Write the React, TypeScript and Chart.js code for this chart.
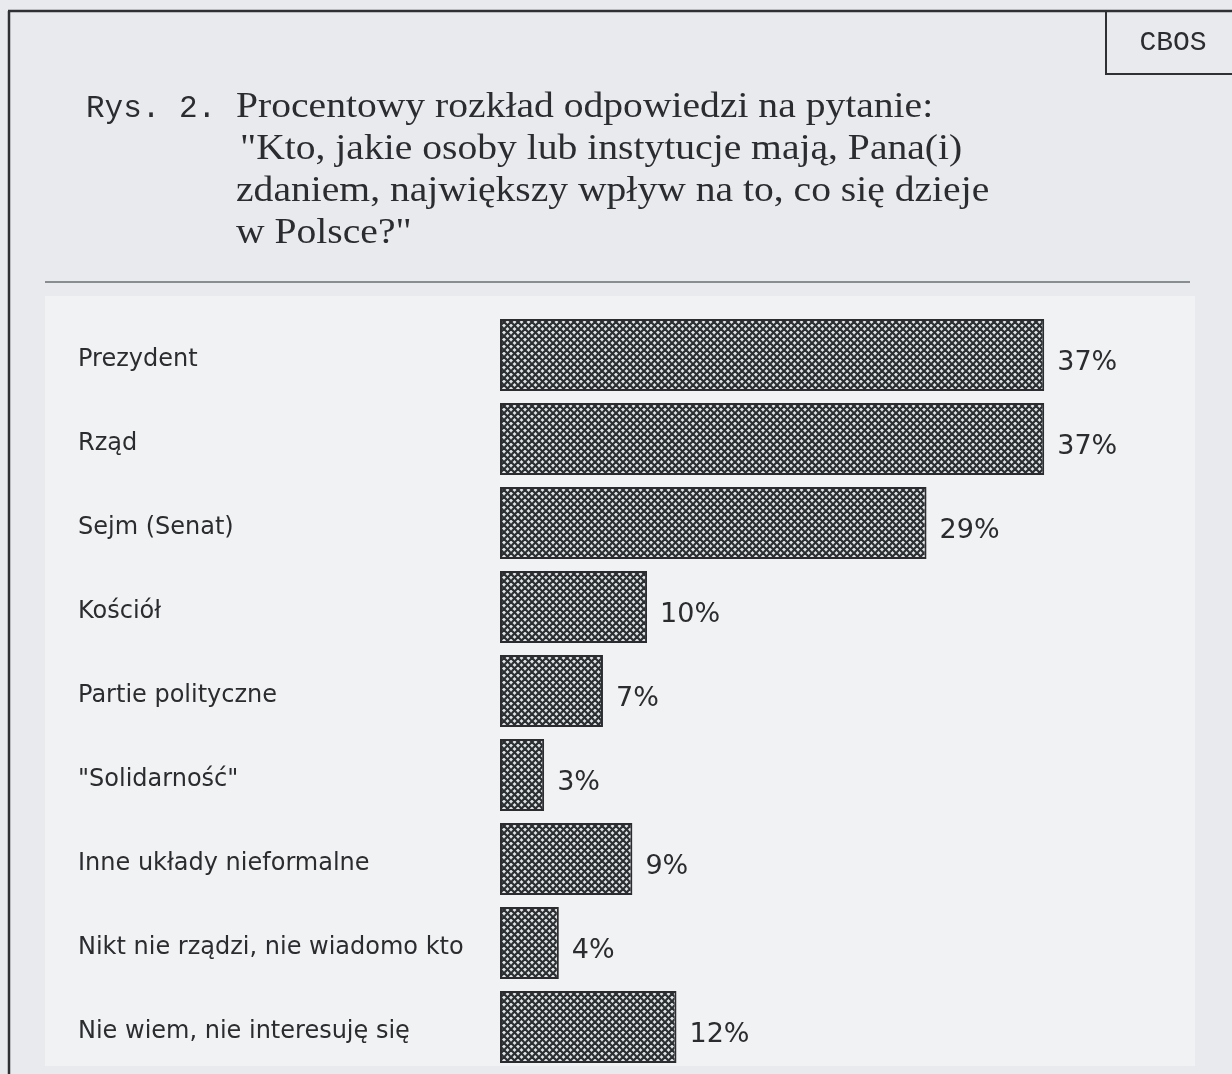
import React, { useEffect, useRef } from "react";
import { Chart, registerables } from "chart.js";

Chart.register(...registerables);

const categories = [
  "Prezydent",
  "Rząd",
  "Sejm (Senat)",
  "Kościół",
  "Partie polityczne",
  "\"Solidarność\"",
  "Inne układy nieformalne",
  "Nikt nie rządzi, nie wiadomo kto",
  "Nie wiem, nie interesuję się",
];
const values = [37, 37, 29, 10, 7, 3, 9, 4, 12];
const valueLabels = ["37%", "37%", "29%", "10%", "7%", "3%", "9%", "4%", "12%"];
const titlePrefix = "Rys. 2.";
const titleLines = [
  "Procentowy rozkład odpowiedzi na pytanie:",
  "\"Kto, jakie osoby lub instytucje mają, Pana(i)",
  "zdaniem, największy wpływ na to, co się dzieje",
  "w Polsce?\"",
];
const sourceLabel = "CBOS";

function makePattern(): CanvasPattern | string {
  const c = document.createElement("canvas");
  const s = 7;
  c.width = s;
  c.height = s;
  const g = c.getContext("2d");
  if (!g) return "#888";
  g.fillStyle = "#e2e4e6";
  g.fillRect(0, 0, s, s);
  g.strokeStyle = "#2c2f32";
  g.lineWidth = 2.2;
  for (const off of [-s, 0, s]) {
    g.beginPath();
    g.moveTo(off, 0);
    g.lineTo(off + s, s);
    g.stroke();
    g.beginPath();
    g.moveTo(off + s, 0);
    g.lineTo(off, s);
    g.stroke();
  }
  const p = g.createPattern(c, "repeat");
  return p || "#888";
}

function drawScaled(ctx: CanvasRenderingContext2D, text: string, x: number, y: number, sx: number) {
  ctx.save();
  ctx.translate(x, y);
  ctx.scale(sx, 1);
  ctx.fillText(text, 0, 0);
  ctx.restore();
}

const pagePlugin = {
  id: "pagePlugin",
  beforeDraw(chart: any) {
    const ctx = chart.ctx as CanvasRenderingContext2D;
    const W = chart.width;
    const H = chart.height;
    ctx.save();
    ctx.fillStyle = "#e8eaed";
    ctx.fillRect(0, 0, W, H);
    // lighter chart panel
    ctx.fillStyle = "#f0f2f3";
    ctx.fillRect(45, 296, 1150, 770);
    // frame
    ctx.strokeStyle = "#2e3033";
    ctx.lineWidth = 2.5;
    ctx.beginPath();
    ctx.moveTo(8, 11);
    ctx.lineTo(W, 11);
    ctx.moveTo(9, 11);
    ctx.lineTo(9, H);
    ctx.stroke();
    // CBOS box
    ctx.lineWidth = 2;
    ctx.beginPath();
    ctx.moveTo(1106, 11);
    ctx.lineTo(1106, 74);
    ctx.lineTo(W, 74);
    ctx.stroke();
    ctx.fillStyle = "#2a2c2f";
    ctx.font = "28px 'Liberation Mono', 'DejaVu Sans Mono', monospace";
    ctx.textAlign = "center";
    ctx.textBaseline = "middle";
    ctx.fillText(sourceLabel, 1173, 43);
    // title
    ctx.textAlign = "left";
    ctx.textBaseline = "alphabetic";
    ctx.font = "31px 'Liberation Mono', 'DejaVu Sans Mono', monospace";
    ctx.fillText(titlePrefix, 86, 117);
    ctx.font = "36px 'Liberation Serif', 'DejaVu Serif', serif";
    titleLines.forEach((t, i) => {
      drawScaled(ctx, t, i === 1 ? 240 : 236, 117 + i * 42, 1.1);
    });
    // separator
    ctx.strokeStyle = "#8a8d90";
    ctx.lineWidth = 2;
    ctx.beginPath();
    ctx.moveTo(45, 282);
    ctx.lineTo(1190, 282);
    ctx.stroke();
    ctx.restore();
  },
  afterDatasetsDraw(chart: any) {
    const ctx = chart.ctx as CanvasRenderingContext2D;
    const meta = chart.getDatasetMeta(0);
    ctx.save();
    ctx.fillStyle = "#2a2c2f";
    ctx.font = "27px 'DejaVu Sans', Verdana, sans-serif";
    ctx.textAlign = "left";
    ctx.textBaseline = "middle";
    meta.data.forEach((bar: any, i: number) => {
      ctx.fillText(valueLabels[i], bar.x + 13, bar.y + 8);
    });
    ctx.restore();
  },
};

export default function App() {
  const ref = useRef<HTMLCanvasElement | null>(null);
  useEffect(() => {
    if (!ref.current) return;
    const pattern = makePattern();
    const chart = new Chart(ref.current, {
      type: "bar",
      data: {
        labels: categories.map((c) => ["", c]),
        datasets: [
          {
            data: values,
            backgroundColor: pattern as any,
            borderColor: "#2a2c2f",
            borderWidth: 2,
            borderSkipped: false,
            categoryPercentage: 1,
            barPercentage: 0.86,
          },
        ],
      },
      options: {
        indexAxis: "y",
        animation: false,
        responsive: false,
        devicePixelRatio: 1,
        layout: { padding: { left: 78, top: 313, right: 26, bottom: 5 } },
        plugins: {
          legend: { display: false },
          tooltip: { enabled: false },
          title: { display: false },
        },
        scales: {
          x: { display: false, min: 0, max: 48 },
          y: {
            grid: { display: false },
            border: { display: false },
            ticks: {
              crossAlign: "far",
              color: "#2a2c2f",
              font: { family: "'DejaVu Sans', Verdana, sans-serif", size: 24, lineHeight: "10px" },
            },
            afterFit: (scale: any) => {
              scale.width = 422;
              scale.paddingTop = 0;
              scale.paddingBottom = 0;
            },
          },
        },
      },
      plugins: [pagePlugin],
    });
    return () => chart.destroy();
  }, []);
  return (
    <div style={{ position: "absolute", left: 0, top: 0, width: 1232, height: 1074 }}>
      <canvas ref={ref} width={1232} height={1074} style={{ display: "block" }} />
    </div>
  );
}
